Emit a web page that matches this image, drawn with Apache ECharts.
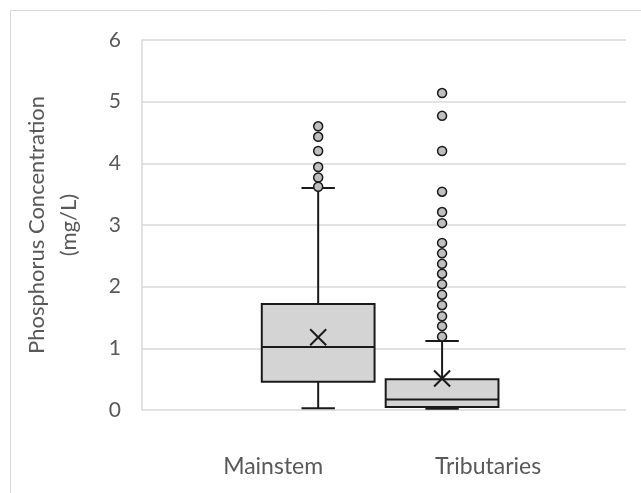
<!DOCTYPE html>
<html>
<head>
<meta charset="utf-8">
<script src="https://cdn.jsdelivr.net/npm/echarts@6/dist/echarts.min.js"></script>
<style>html,body{margin:0;padding:0;background:#fff;}#c{width:641px;height:493px;}</style>
</head>
<body>
<div id="c"></div>
<script>
// ---- data ----
const categories = ['Mainstem', 'Tributaries'];
// [min(whisker), Q1, median, Q3, max(whisker)]
const boxStats = [
  [0.03, 0.46, 1.02, 1.72, 3.60],
  [0.02, 0.05, 0.17, 0.50, 1.12]
];
const means = [1.18, 0.51];
const mainstemOutliers = [4.60, 4.43, 4.20, 3.94, 3.77, 3.62];
const tributaryOutliers = [5.14, 4.77, 4.20, 3.54, 3.21, 3.03, 2.71, 2.54, 2.37, 2.21, 2.04, 1.87, 1.70, 1.52, 1.36, 1.19];
const yTicks = [0, 1, 2, 3, 4, 5, 6];

// ---- layout (x axis runs 0..100 across the plot) ----
const boxCenter = [36.4, 62.0];
const labelPos = [27.1, 71.5];
const boxWidth = 23.3;
const capWidth = 6.9;

const chart = echarts.init(document.getElementById('c'));
const font = 'Lato, "Open Sans", sans-serif';
const boxData = boxStats.map((s, i) => [boxCenter[i]].concat(s).concat([means[i]]));
const outlierData = [];
mainstemOutliers.forEach(v => outlierData.push([boxCenter[0], v]));
tributaryOutliers.forEach(v => outlierData.push([boxCenter[1], v]));

function renderBox(params, api) {
  const x = api.value(0);
  const pMin = api.coord([x, api.value(1)]);
  const pQ1 = api.coord([x, api.value(2)]);
  const pMed = api.coord([x, api.value(3)]);
  const pQ3 = api.coord([x, api.value(4)]);
  const pMax = api.coord([x, api.value(5)]);
  const pMean = api.coord([x, api.value(6)]);
  const hw = api.size([boxWidth, 0])[0] / 2;
  const cw = api.size([capWidth, 0])[0] / 2;
  const cx = pMed[0];
  const ls = { stroke: '#1a1a1a', lineWidth: 2, fill: null };
  const m = 8;
  return {
    type: 'group',
    children: [
      { type: 'line', shape: { x1: cx, y1: pQ3[1], x2: cx, y2: pMax[1] }, style: ls },
      { type: 'line', shape: { x1: cx, y1: pQ1[1], x2: cx, y2: pMin[1] }, style: ls },
      { type: 'line', shape: { x1: cx - cw, y1: pMax[1], x2: cx + cw, y2: pMax[1] }, style: ls },
      { type: 'line', shape: { x1: cx - cw, y1: pMin[1], x2: cx + cw, y2: pMin[1] }, style: ls },
      { type: 'rect', shape: { x: cx - hw, y: pQ3[1], width: 2 * hw, height: pQ1[1] - pQ3[1] },
        style: { fill: '#d4d4d4', stroke: '#1a1a1a', lineWidth: 2 } },
      { type: 'line', shape: { x1: cx - hw, y1: pMed[1], x2: cx + hw, y2: pMed[1] }, style: ls },
      { type: 'line', shape: { x1: cx - m, y1: pMean[1] - m, x2: cx + m, y2: pMean[1] + m }, style: ls },
      { type: 'line', shape: { x1: cx - m, y1: pMean[1] + m, x2: cx + m, y2: pMean[1] - m }, style: ls }
    ]
  };
}

chart.setOption({
  animation: false,
  backgroundColor: '#fff',
  graphic: [{
    type: 'rect', left: 8, top: 8, shape: { width: 700, height: 600 },
    style: { fill: null, stroke: '#d9d9d9', lineWidth: 1 }, silent: true
  }],
  grid: { left: 142, right: 15, top: 40, bottom: 83 },
  xAxis: {
    type: 'value', min: 0, max: 100,
    axisLine: { show: false }, axisTick: { show: false }, splitLine: { show: false },
    axisLabel: {
      customValues: labelPos,
      formatter: v => { const i = labelPos.indexOf(v); return i >= 0 ? categories[i] : ''; },
      color: '#595959', fontFamily: font, fontSize: 23, margin: 45
    }
  },
  yAxis: {
    type: 'value', min: yTicks[0], max: yTicks[yTicks.length - 1], interval: 1,
    name: 'Phosphorus Concentration\n(mg/L)',
    nameLocation: 'middle', nameRotate: 90, nameGap: 57,
    nameTextStyle: { color: '#595959', fontFamily: font, fontSize: 22, lineHeight: 32 },
    axisLine: { show: true, lineStyle: { color: '#d9d9d9', width: 1.5 } },
    axisTick: { show: false },
    splitLine: { lineStyle: { color: '#d9d9d9', width: 1.5 } },
    axisLabel: { color: '#595959', fontFamily: font, fontSize: 21, margin: 21 }
  },
  series: [
    { type: 'custom', renderItem: renderBox, data: boxData, encode: { x: 0, y: [1, 2, 3, 4, 5, 6] }, z: 2 },
    { type: 'scatter', data: outlierData, symbol: 'circle', symbolSize: 9,
      itemStyle: { color: '#bfbfbf', borderColor: '#1a1a1a', borderWidth: 1.5, opacity: 1 }, z: 3 }
  ]
});
</script>
</body>
</html>
